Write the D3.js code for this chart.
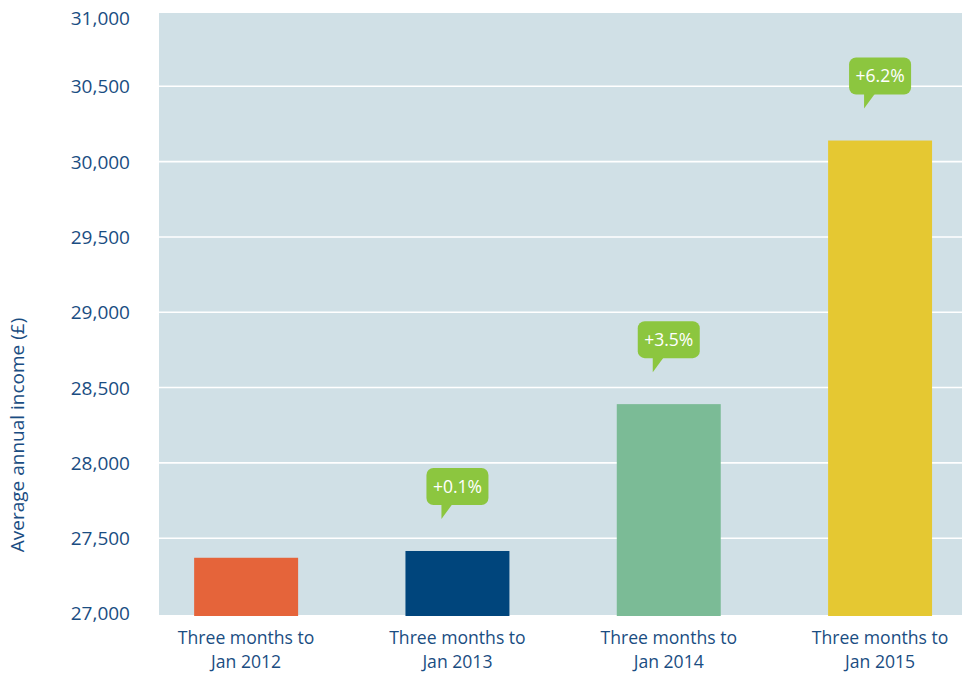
<!DOCTYPE html>
<html>
<head>
<meta charset="utf-8">
<script src="https://cdn.jsdelivr.net/npm/d3@7"></script>
<style>
  html, body { margin: 0; padding: 0; background: #ffffff; }
  svg { display: block; }
  text { font-family: "Open Sans", "Noto Sans", sans-serif; }
</style>
</head>
<body>
<svg id="chart" width="962" height="674"></svg>
<script>
// ---- data ----
const categories = ["Three months to|Jan 2012", "Three months to|Jan 2013", "Three months to|Jan 2014", "Three months to|Jan 2015"];
const incomeValues = [27370, 27415, 28390, 30140];
const changeLabels = [null, "+0.1%", "+3.5%", "+6.2%"];
const barColors = ["#e5643a", "#00457c", "#7bbb96", "#e5c832"];
const yTicks = [27000, 27500, 28000, 28500, 29000, 29500, 30000, 30500, 31000];
const yTitle = "Average annual income (£)";

// ---- layout ----
const svg = d3.select("#chart");
const textColor = "#1a4d82";
const plot = { left: 159, right: 962, top: 13, bottom: 615 };

const x = d3.scaleBand()
  .domain(categories)
  .range([plot.left, plot.right])
  .paddingInner(0.508)
  .paddingOuter(0.154)
  .align(0.54);

const y = d3.scaleLinear()
  .domain([27000, 31000])
  .range([613.5, 11]);

// background
svg.append("rect")
  .attr("x", plot.left).attr("y", plot.top)
  .attr("width", plot.right - plot.left)
  .attr("height", plot.bottom - plot.top)
  .attr("fill", "#d0e0e6");

// gridlines
svg.append("g")
  .selectAll("line")
  .data(yTicks.filter(t => t > 27000 && t < 31000))
  .join("line")
  .attr("x1", plot.left).attr("x2", plot.right)
  .attr("y1", d => y(d)).attr("y2", d => y(d))
  .attr("stroke", "#ffffff").attr("stroke-width", 1.6);

// y axis labels
const yAxis = d3.axisLeft(y)
  .tickValues(yTicks)
  .tickSize(0)
  .tickPadding(0)
  .tickFormat(d3.format(","));
const yg = svg.append("g").attr("transform", "translate(130,0)").call(yAxis);
yg.select(".domain").remove();
yg.selectAll("text")
  .attr("fill", textColor)
  .attr("font-size", 19)
  .attr("font-family", "'Open Sans', sans-serif")
  .attr("dy", "0.34em")
  .attr("transform", d => d === 31000 ? "translate(0,7)" : null);

// y title
svg.append("text")
  .attr("transform", "translate(24,435) rotate(-90)")
  .attr("text-anchor", "middle")
  .attr("fill", textColor)
  .attr("font-size", 19)
  .text(yTitle);

// bars
svg.append("g")
  .selectAll("rect")
  .data(categories)
  .join("rect")
  .attr("x", d => x(d))
  .attr("width", x.bandwidth())
  .attr("y", (d, i) => y(incomeValues[i]))
  .attr("height", (d, i) => y(27000) + 2.5 - y(incomeValues[i]))
  .attr("fill", (d, i) => barColors[i]);

// x labels (two lines each)
categories.forEach(c => {
  const parts = c.split("|");
  parts.forEach((p, k) => {
    svg.append("text")
      .attr("x", x(c) + x.bandwidth() / 2)
      .attr("y", 644 + k * 24)
      .attr("text-anchor", "middle")
      .attr("fill", textColor)
      .attr("font-size", 17.6)
      .text(p);
  });
});

// bubbles
const bw = 62, bh = 37, tail = 14, gap = 32;
const bubbles = svg.append("g")
  .selectAll("g")
  .data(categories.map((c, i) => ({ c, i })).filter(d => changeLabels[d.i]))
  .join("g")
  .attr("transform", d => {
    const cx = x(d.c) + x.bandwidth() / 2;
    const tipY = y(incomeValues[d.i]) - gap;
    return `translate(${cx},${tipY - tail - bh})`;
  });
bubbles.append("rect")
  .attr("x", -bw / 2).attr("y", 0)
  .attr("width", bw).attr("height", bh)
  .attr("rx", 7).attr("ry", 7)
  .attr("fill", "#8cc63f");
bubbles.append("path")
  .attr("d", `M${-16},${bh - 1} L${-5},${bh - 1} L${-16},${bh + tail} Z`)
  .attr("fill", "#8cc63f");
bubbles.append("text")
  .attr("x", 0).attr("y", bh / 2)
  .attr("dy", "0.36em")
  .attr("text-anchor", "middle")
  .attr("fill", "#ffffff")
  .attr("font-size", 17.5)
  .text(d => changeLabels[d.i]);
</script>
</body>
</html>
